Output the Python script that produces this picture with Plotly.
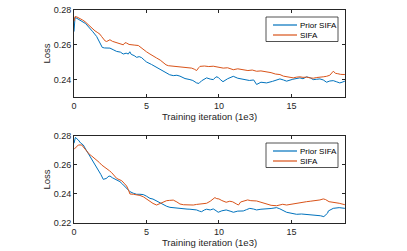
import plotly.graph_objects as go

# ---- data (x in 1e3 iterations) ----
top_prior_x = [0.0, 0.07, 0.2, 0.35, 0.5, 0.64, 0.8, 0.95, 1.10, 1.3, 1.56, 1.75, 1.95, 2.1, 2.25, 2.48, 2.7, 2.94, 3.2, 3.40, 3.6, 3.75, 3.85, 3.95, 4.15, 4.32, 4.5, 4.67, 4.85, 5.01, 5.35, 5.70, 6.05, 6.39, 6.6, 6.85, 7.1, 7.31, 7.5, 7.66, 8.0, 8.2, 8.46, 8.62, 8.8, 9.0, 9.15, 9.4, 9.61, 9.8, 9.95, 10.1, 10.28, 10.6, 10.99, 11.3, 11.68, 12.1, 12.4, 12.6, 12.9, 13.29, 13.7, 14.0, 14.21, 14.45, 14.67, 15.1, 15.59, 15.8, 16.05, 16.3, 16.51, 16.75, 16.97, 17.2, 17.43, 17.65, 17.89, 18.1, 18.34, 18.5, 18.69]
top_prior_y = [0.2676, 0.2756, 0.2752, 0.2745, 0.2738, 0.2733, 0.2722, 0.2708, 0.2695, 0.2675, 0.2648, 0.2620, 0.2585, 0.2582, 0.2580, 0.2581, 0.2572, 0.2562, 0.2558, 0.2547, 0.2552, 0.2547, 0.2560, 0.2545, 0.2538, 0.2528, 0.2532, 0.2526, 0.2512, 0.2501, 0.2487, 0.2470, 0.2452, 0.2438, 0.2428, 0.2423, 0.2425, 0.2420, 0.2412, 0.2406, 0.2400, 0.2395, 0.2381, 0.2378, 0.2393, 0.2402, 0.2410, 0.2403, 0.2400, 0.2416, 0.2413, 0.2400, 0.2388, 0.2405, 0.2419, 0.2408, 0.2400, 0.2395, 0.2398, 0.2372, 0.2385, 0.2381, 0.2390, 0.2400, 0.2404, 0.2398, 0.2391, 0.2402, 0.2410, 0.2405, 0.2416, 0.2410, 0.2400, 0.2402, 0.2404, 0.2398, 0.2385, 0.2392, 0.2394, 0.2388, 0.2381, 0.2385, 0.2391]

top_sifa_x = [0.0, 0.07, 0.2, 0.41, 0.6, 0.76, 0.95, 1.10, 1.3, 1.45, 1.6, 1.79, 1.9, 2.02, 2.15, 2.25, 2.48, 2.65, 2.83, 3.0, 3.17, 3.4, 3.52, 3.63, 3.8, 3.98, 4.2, 4.44, 4.6, 4.78, 5.0, 5.24, 5.45, 5.70, 5.95, 6.16, 6.35, 6.51, 6.8, 7.08, 7.3, 7.54, 7.8, 8.12, 8.3, 8.46, 8.6, 8.69, 9.0, 9.3, 9.61, 9.95, 10.3, 10.6, 10.99, 11.3, 11.68, 12.0, 12.3, 12.6, 12.9, 13.29, 13.6, 13.9, 14.21, 14.45, 14.67, 14.9, 15.13, 15.35, 15.59, 15.8, 16.05, 16.3, 16.51, 16.75, 16.97, 17.2, 17.43, 17.65, 17.89, 18.05, 18.2, 18.4, 18.69]
top_sifa_y = [0.2735, 0.2762, 0.2760, 0.2752, 0.2742, 0.2733, 0.2718, 0.2705, 0.2690, 0.2680, 0.2672, 0.2661, 0.2648, 0.2633, 0.2622, 0.2619, 0.2629, 0.2620, 0.2615, 0.2610, 0.2604, 0.2600, 0.2612, 0.2610, 0.2602, 0.2599, 0.2598, 0.2596, 0.2585, 0.2571, 0.2560, 0.2547, 0.2535, 0.2524, 0.2512, 0.2496, 0.2485, 0.2480, 0.2478, 0.2476, 0.2474, 0.2470, 0.2471, 0.2466, 0.2460, 0.2452, 0.2468, 0.2476, 0.2478, 0.2475, 0.2477, 0.2470, 0.2466, 0.2468, 0.2457, 0.2462, 0.2457, 0.2452, 0.2455, 0.2448, 0.2450, 0.2446, 0.2440, 0.2432, 0.2429, 0.2420, 0.2416, 0.2412, 0.2410, 0.2414, 0.2416, 0.2413, 0.2414, 0.2410, 0.2408, 0.2412, 0.2416, 0.2416, 0.2419, 0.2425, 0.2448, 0.2436, 0.2434, 0.2430, 0.2429]

bot_prior_x = [0.0, 0.1, 0.2, 0.30, 0.45, 0.64, 0.8, 0.99, 1.15, 1.33, 1.5, 1.68, 1.85, 2.02, 2.15, 2.25, 2.35, 2.48, 2.65, 2.83, 3.0, 3.17, 3.35, 3.52, 3.7, 3.86, 4.1, 4.32, 4.55, 4.78, 5.0, 5.24, 5.45, 5.70, 5.95, 6.16, 6.4, 6.62, 6.85, 7.08, 7.3, 7.54, 7.8, 8.0, 8.23, 8.46, 8.65, 8.8, 9.0, 9.15, 9.4, 9.61, 9.8, 9.95, 10.2, 10.5, 10.77, 11.0, 11.3, 11.68, 11.9, 12.13, 12.4, 12.6, 12.9, 13.29, 13.6, 13.98, 14.2, 14.67, 15.0, 15.36, 15.7, 16.05, 16.4, 16.74, 17.0, 17.24, 17.5, 17.55, 17.89, 18.3, 18.69]
bot_prior_y = [0.2750, 0.2791, 0.2780, 0.2772, 0.2752, 0.2738, 0.2710, 0.2680, 0.2650, 0.2623, 0.2595, 0.2566, 0.2535, 0.2501, 0.2505, 0.2508, 0.2520, 0.2524, 0.2512, 0.2501, 0.2495, 0.2485, 0.2468, 0.2450, 0.2432, 0.2416, 0.2405, 0.2398, 0.2398, 0.2396, 0.2385, 0.2370, 0.2365, 0.2352, 0.2338, 0.2324, 0.2315, 0.2308, 0.2305, 0.2301, 0.2300, 0.2297, 0.2296, 0.2295, 0.2292, 0.2290, 0.2282, 0.2278, 0.2290, 0.2295, 0.2290, 0.2297, 0.2285, 0.2274, 0.2284, 0.2290, 0.2282, 0.2274, 0.2282, 0.2283, 0.2292, 0.2301, 0.2296, 0.2290, 0.2295, 0.2297, 0.2300, 0.2306, 0.2298, 0.2274, 0.2268, 0.2260, 0.2262, 0.2260, 0.2256, 0.2255, 0.2250, 0.2244, 0.2268, 0.2283, 0.2301, 0.2306, 0.2301]

bot_sifa_x = [0.0, 0.15, 0.30, 0.53, 0.7, 0.87, 1.05, 1.22, 1.4, 1.56, 1.75, 1.91, 2.1, 2.25, 2.45, 2.6, 2.8, 2.94, 3.1, 3.29, 3.45, 3.63, 3.75, 3.86, 4.1, 4.32, 4.55, 4.78, 5.0, 5.24, 5.45, 5.70, 5.85, 6.05, 6.2, 6.39, 6.6, 6.85, 7.1, 7.31, 7.55, 7.77, 8.0, 8.23, 8.45, 8.69, 8.9, 9.15, 9.4, 9.6, 9.72, 9.85, 10.0, 10.2, 10.5, 10.75, 10.95, 11.2, 11.35, 11.5, 11.7, 11.98, 12.2, 12.6, 12.9, 13.29, 13.6, 13.98, 14.2, 14.4, 14.67, 15.0, 15.36, 15.7, 16.05, 16.3, 16.51, 16.8, 16.97, 17.2, 17.35, 17.6, 17.89, 18.3, 18.69]
bot_sifa_y = [0.2708, 0.2725, 0.2738, 0.2738, 0.2715, 0.2692, 0.2675, 0.2662, 0.2648, 0.2634, 0.2617, 0.2600, 0.2588, 0.2577, 0.2560, 0.2547, 0.2525, 0.2508, 0.2500, 0.2492, 0.2475, 0.2455, 0.2430, 0.2400, 0.2398, 0.2396, 0.2390, 0.2381, 0.2365, 0.2347, 0.2335, 0.2324, 0.2330, 0.2336, 0.2346, 0.2354, 0.2356, 0.2358, 0.2345, 0.2331, 0.2326, 0.2324, 0.2326, 0.2324, 0.2328, 0.2329, 0.2334, 0.2336, 0.2350, 0.2365, 0.2375, 0.2368, 0.2366, 0.2355, 0.2343, 0.2350, 0.2346, 0.2332, 0.2324, 0.2345, 0.2352, 0.2359, 0.2354, 0.2352, 0.2343, 0.2329, 0.2322, 0.2319, 0.2325, 0.2329, 0.2324, 0.2330, 0.2336, 0.2345, 0.2347, 0.2350, 0.2352, 0.2356, 0.2359, 0.2366, 0.2362, 0.2347, 0.2343, 0.2336, 0.2326]

x_ticks = [0, 5, 10, 15]
series_names = ["Prior SIFA", "SIFA"]

BLUE = "#0072BD"
ORANGE = "#D95319"
AX = "#262626"
FONT = "Liberation Sans, Arial, sans-serif"
COLORS = [BLUE, ORANGE]

fig = go.Figure()
fig.add_trace(go.Scatter(x=top_prior_x, y=top_prior_y, mode="lines", name=series_names[0],
                         line=dict(color=BLUE, width=1.0), xaxis="x", yaxis="y"))
fig.add_trace(go.Scatter(x=top_sifa_x, y=top_sifa_y, mode="lines", name=series_names[1],
                         line=dict(color=ORANGE, width=1.0), xaxis="x", yaxis="y"))
fig.add_trace(go.Scatter(x=bot_prior_x, y=bot_prior_y, mode="lines", name=series_names[0],
                         line=dict(color=BLUE, width=1.0), xaxis="x2", yaxis="y2"))
fig.add_trace(go.Scatter(x=bot_sifa_x, y=bot_sifa_y, mode="lines", name=series_names[1],
                         line=dict(color=ORANGE, width=1.0), xaxis="x2", yaxis="y2"))

def xax(anchor):
    return dict(range=[0, 18.7], tickvals=x_ticks, ticks="inside", ticklen=3, tickcolor=AX,
                showline=True, linecolor=AX, linewidth=0.8, mirror="ticks", showgrid=False,
                zeroline=False, anchor=anchor, domain=[0, 1], automargin=False,
                tickfont=dict(size=9, color=AX, family=FONT),
                title=dict(text="Training iteration (1e3)", font=dict(size=9.5, color=AX, family=FONT), standoff=2))

def yax(anchor, rng, dom):
    return dict(range=rng, dtick=0.02, tick0=0.24, tickformat=".2f", ticks="inside", ticklen=3, tickcolor=AX,
                showline=True, linecolor=AX, linewidth=0.8, mirror="ticks", showgrid=False,
                zeroline=False, anchor=anchor, domain=dom, automargin=False,
                tickfont=dict(size=9, color=AX, family=FONT),
                title=dict(text="Loss", font=dict(size=9.5, color=AX, family=FONT), standoff=1))

W, H = 407, 251
ML, MR, MT, MB = 74, 62, 10, 28
PW, PH = W - ML - MR, H - MT - MB

def px2paper(px, py):
    return (px - ML) / PW, (H - MB - py) / PH

# compact MATLAB-style legends in paper coordinates
shapes = []
annotations = []
for box_top in (17, 143):
    x0, y0 = px2paper(266, box_top)
    x1, y1 = px2paper(338, box_top + 24.5)
    shapes.append(dict(type="rect", xref="paper", yref="paper", x0=x0, x1=x1, y0=y1, y1=y0,
                       line=dict(color=AX, width=0.8), fillcolor="white", layer="above"))
    for i, name in enumerate(series_names):
        cy = box_top + 8 + i * 10
        lx0, ly = px2paper(273, cy)
        lx1, _ = px2paper(297, cy)
        shapes.append(dict(type="line", xref="paper", yref="paper", x0=lx0, x1=lx1, y0=ly, y1=ly,
                           line=dict(color=COLORS[i], width=1.2), layer="above"))
        tx, _ = px2paper(298, cy)
        annotations.append(dict(text=name, xref="paper", yref="paper", x=tx, y=ly, xanchor="left",
                                yanchor="middle", showarrow=False,
                                font=dict(size=8, color="black", family=FONT)))

fig.update_layout(
    width=W, height=H,
    margin=dict(l=ML, r=MR, t=MT, b=MB),
    paper_bgcolor="white", plot_bgcolor="white",
    showlegend=False,
    xaxis=xax("y"),
    yaxis=yax("x", [0.23, 0.28], [0.5915, 1.0]),
    xaxis2=xax("y2"),
    yaxis2=yax("x2", [0.22, 0.28], [0.0, 0.4085]),
    shapes=shapes,
    annotations=annotations,
)

fig.write_html("out.html", config={"displayModeBar": False},
               post_script="document.body.style.margin='0px';document.body.style.overflow='hidden';")
